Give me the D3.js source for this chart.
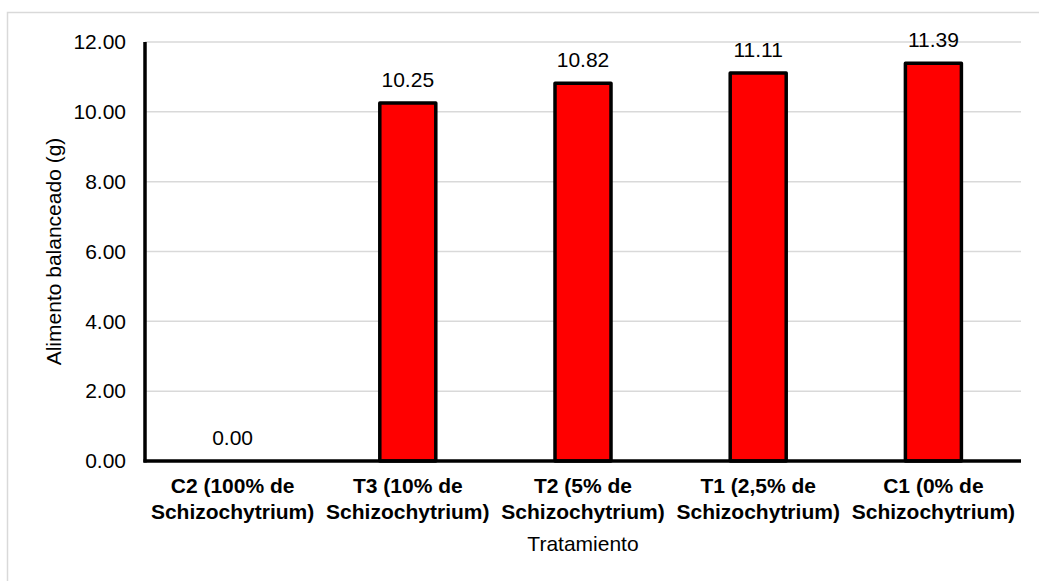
<!DOCTYPE html>
<html>
<head>
<meta charset="utf-8">
<script src="https://cdn.jsdelivr.net/npm/d3@7"></script>
<style>
  html, body { margin: 0; padding: 0; background: #fff; }
  svg { display: block; font-family: "Liberation Sans", Arial, sans-serif; }
</style>
</head>
<body>
<svg id="chart" width="1039" height="581"></svg>
<script>
const categories = [
  ["C2 (100% de", "Schizochytrium)"],
  ["T3 (10% de", "Schizochytrium)"],
  ["T2 (5% de", "Schizochytrium)"],
  ["T1 (2,5% de", "Schizochytrium)"],
  ["C1 (0% de", "Schizochytrium)"]
];
const values = [0.00, 10.25, 10.82, 11.11, 11.39];
const yTicks = [0, 2, 4, 6, 8, 10, 12];
const yTitle = "Alimento balanceado (g)";
const xTitle = "Tratamiento";

const svg = d3.select("#chart");
const m = { left: 145, right: 1021, top: 42, bottom: 461 };

// outer border
svg.append("rect").attr("x", 7.5).attr("y", 12.5).attr("width", 1060).attr("height", 600)
  .attr("fill", "#fff").attr("stroke", "#d9d9d9").attr("stroke-width", 1.5);

const x = d3.scaleBand().domain(d3.range(categories.length)).range([m.left, m.right]).paddingInner(0).paddingOuter(0);
const y = d3.scaleLinear().domain([0, 12]).range([m.bottom, m.top]);

// gridlines
svg.append("g").selectAll("line").data(yTicks.filter(d => d > 0)).join("line")
  .attr("x1", m.left).attr("x2", m.right)
  .attr("y1", d => y(d)).attr("y2", d => y(d))
  .attr("stroke", "#d9d9d9").attr("stroke-width", 1.5);

// y axis labels
const yAxis = d3.axisLeft(y).tickValues(yTicks).tickFormat(d3.format(".2f")).tickSize(0).tickPadding(19);
const yg = svg.append("g").attr("transform", `translate(${m.left},0)`).call(yAxis);
yg.select(".domain").remove();
yg.selectAll("text").attr("font-size", 21).attr("fill", "#000")
  .attr("font-family", "Liberation Sans, Arial, sans-serif");

// bars
const bw = 56;
svg.append("g").selectAll("rect").data(values).join("rect")
  .attr("x", (d, i) => x(i) + x.bandwidth() / 2 - bw / 2)
  .attr("y", d => y(d))
  .attr("width", bw)
  .attr("height", d => y(0) - y(d))
  .attr("fill", "#ff0000")
  .attr("stroke", d => d > 0 ? "#000" : "none")
  .attr("stroke-width", 3.5)
  .attr("stroke-linejoin", "round");

// value labels
svg.append("g").selectAll("text").data(values).join("text")
  .attr("x", (d, i) => x(i) + x.bandwidth() / 2)
  .attr("y", d => y(d) - 16)
  .attr("text-anchor", "middle")
  .attr("font-size", 21)
  .attr("fill", "#000")
  .text(d => d.toFixed(2));

// axes lines
svg.append("line").attr("x1", m.left).attr("x2", m.left).attr("y1", m.top).attr("y2", m.bottom + 1.5)
  .attr("stroke", "#000").attr("stroke-width", 3.5);
svg.append("line").attr("x1", m.left - 1.5).attr("x2", m.right).attr("y1", m.bottom).attr("y2", m.bottom)
  .attr("stroke", "#000").attr("stroke-width", 3.5);

// x category labels
const xl = svg.append("g").selectAll("text").data(categories).join("text")
  .attr("x", (d, i) => x(i) + x.bandwidth() / 2)
  .attr("y", 493)
  .attr("text-anchor", "middle")
  .attr("font-size", 21)
  .attr("font-weight", "bold")
  .attr("fill", "#000");
xl.selectAll("tspan").data(d => d).join("tspan")
  .attr("x", function() { return d3.select(this.parentNode).attr("x"); })
  .attr("dy", (d, i) => i === 0 ? 0 : 26)
  .text(d => d);

// axis titles
svg.append("text").attr("x", (m.left + m.right) / 2).attr("y", 551)
  .attr("text-anchor", "middle").attr("font-size", 21).attr("fill", "#000").text(xTitle);
svg.append("text").attr("transform", `translate(61,${(m.top + m.bottom) / 2}) rotate(-90)`)
  .attr("text-anchor", "middle").attr("font-size", 21).attr("fill", "#000").text(yTitle);
</script>
</body>
</html>
